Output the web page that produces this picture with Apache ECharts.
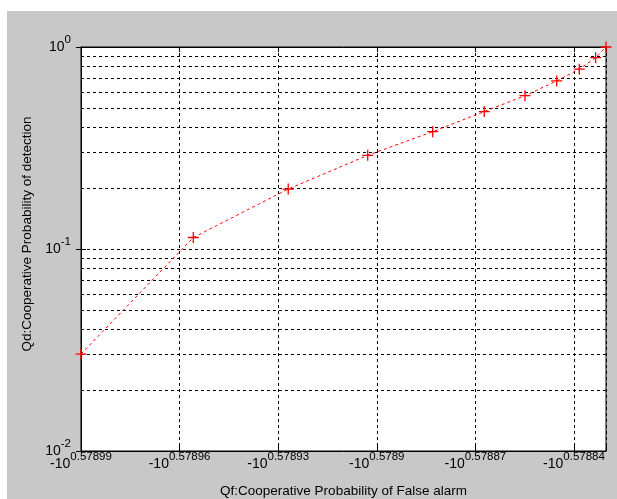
<!DOCTYPE html>
<html>
<head>
<meta charset="utf-8">
<script src="https://cdn.jsdelivr.net/npm/echarts@6/dist/echarts.min.js"></script>
<style>
html,body{margin:0;padding:0;background:#fff;}
#c{width:617px;height:499px;}
</style>
</head>
<body>
<div id="c"></div>
<script>
// X positions in tick units (tick k = label k)
const xValues = [0, 1.139, 2.102, 2.908, 3.567, 4.090, 4.503, 4.825, 5.054, 5.220, 5.325];
const qdValues = [0.0302, 0.114, 0.198, 0.291, 0.381, 0.479, 0.574, 0.679, 0.777, 0.885, 1.0];
const xTickExps = ['0.57899', '0.57896', '0.57893', '0.5789', '0.57887', '0.57884'];
const yMinorLines = [0.02, 0.03, 0.04, 0.05, 0.06, 0.07, 0.08, 0.09, 0.2, 0.3, 0.4, 0.5, 0.6, 0.7, 0.8, 0.9];
const xTitle = 'Qf:Cooperative Probability of False alarm';
const yTitle = 'Qd:Cooperative Probability of detection';

const FONT = '"Liberation Sans", Arial, Helvetica, sans-serif';
const rich = {
  b: {fontFamily: FONT, fontSize: 14, lineHeight: 14, color: '#000'},
  s: {fontFamily: FONT, fontSize: 11.5, lineHeight: 10, color: '#000', padding: [0, 0, 14, 0]}
};

const chart = echarts.init(document.getElementById('c'), null, {renderer: 'canvas'});
const gridDash = {color: '#000', type: [3, 3], width: 1};

chart.setOption({
  animation: false,
  backgroundColor: '#fff',
  graphic: [{
    type: 'rect', left: 7, top: 11, z: -100,
    shape: {width: 610, height: 488},
    style: {fill: '#c8c8c8'}
  }],
  grid: {left: 81, right: 11, top: 47, bottom: 48, containLabel: false, outerBoundsMode: 'none',
         show: true, backgroundColor: '#fff', borderColor: '#000', borderWidth: 1},
  xAxis: [{
    type: 'value', min: 0, max: xValues[xValues.length - 1], interval: 1,
    position: 'bottom',
    name: xTitle, nameLocation: 'middle', nameGap: 33,
    nameTextStyle: {fontFamily: FONT, fontSize: 13.5, color: '#000'},
    axisLine: {show: true, lineStyle: {color: '#000'}},
    axisTick: {show: true, inside: true, length: 5, lineStyle: {color: '#000'}},
    splitLine: {show: true, lineStyle: gridDash},
    axisLabel: {
      margin: 6, rich: rich, hideOverlap: false, showMinLabel: true, showMaxLabel: true,
      formatter: function (v) {
        const k = Math.round(v);
        if (Math.abs(v - k) > 1e-6 || k < 0 || k >= xTickExps.length) return '';
        return '{b|-10}{s|' + xTickExps[k] + '}';
      }
    }
  }, {
    type: 'value', min: 0, max: xValues[xValues.length - 1], interval: 1,
    position: 'top',
    axisLine: {show: true, lineStyle: {color: '#000'}},
    axisTick: {show: true, inside: true, length: 5, lineStyle: {color: '#000'}},
    splitLine: {show: false},
    axisLabel: {show: false}
  }],
  yAxis: [{
    type: 'log', logBase: 10, min: 0.01, max: 1,
    position: 'left',
    name: yTitle, nameLocation: 'middle', nameGap: 45,
    nameTextStyle: {fontFamily: FONT, fontSize: 13.5, color: '#000', padding: [0, 0, 0, 30]},
    axisLine: {show: true, lineStyle: {color: '#000'}},
    axisTick: {show: true, inside: true, length: 5, lineStyle: {color: '#000'}},
    splitLine: {show: true, lineStyle: gridDash},
    axisLabel: {
      margin: 10, rich: rich,
      formatter: function (v) {
        return '{b|10}{s|' + Math.round(Math.log10(v)) + '}';
      }
    }
  }, {
    type: 'log', logBase: 10, min: 0.01, max: 1,
    position: 'right',
    axisLine: {show: true, lineStyle: {color: '#000'}},
    axisTick: {show: true, inside: true, length: 5, lineStyle: {color: '#000'}},
    splitLine: {show: false},
    axisLabel: {show: false}
  }],
  series: [{
    type: 'line',
    xAxisIndex: 0, yAxisIndex: 0,
    data: xValues.map((x, i) => [x, qdValues[i]]),
    clip: false,
    symbol: 'path://M0,5L10,5M5,0L5,10',
    symbolSize: 11,
    itemStyle: {color: 'transparent', borderColor: '#ff0000', borderWidth: 1.3},
    lineStyle: {color: '#ff0000', width: 1, type: [3, 3]},
    z: 5,
    markLine: {
      silent: true, symbol: ['none', 'none'],
      label: {show: false},
      lineStyle: gridDash,
      emphasis: {disabled: true},
      data: yMinorLines.map(v => ({yAxis: v}))
    }
  }]
});
</script>
</body>
</html>
